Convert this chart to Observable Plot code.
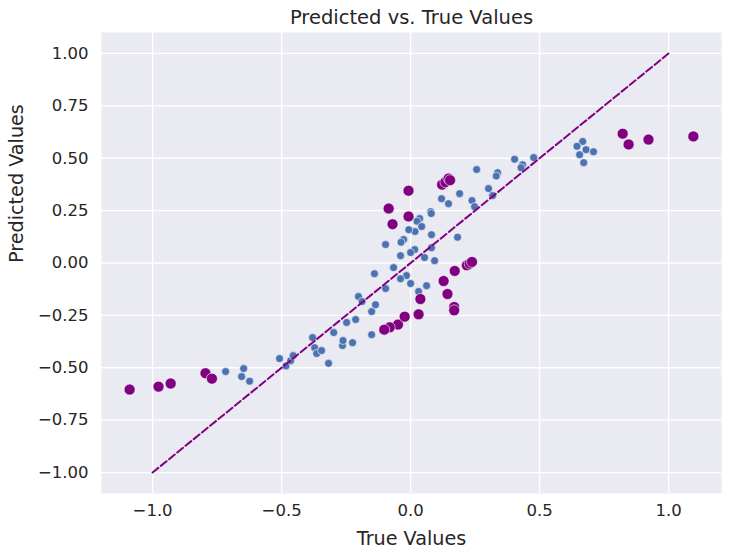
<!DOCTYPE html>
<html><head><meta charset="utf-8">
<script src="https://cdn.jsdelivr.net/npm/d3@7"></script>
<script src="https://cdn.jsdelivr.net/npm/@observablehq/plot@0.6"></script>
<style>body{margin:0;background:#fff}</style>
</head><body><div id="chart"></div>
<script>
const title = "Predicted vs. True Values";
const xLabel = "True Values";
const yLabel = "Predicted Values";
const xTicks = [-1.0, -0.5, 0.0, 0.5, 1.0];
const yTicks = [-1.0, -0.75, -0.5, -0.25, 0.0, 0.25, 0.5, 0.75, 1.0];

const blueTrue = [-0.717,-0.647,-0.655,-0.624,-0.508,-0.483,-0.465,-0.455,-0.380,-0.372,-0.364,-0.345,-0.318,-0.298,-0.264,-0.262,-0.248,-0.225,-0.213,-0.202,-0.188,-0.151,-0.151,-0.136,-0.140,-0.097,-0.097,-0.066,
  0.403,0.477,0.434,0.428,0.256,0.337,0.332,0.302,0.318,0.238,0.248,0.190,0.120,0.147,0.078,0.080,0.035,0.025,0.043,0.017,-0.007,0.081,-0.027,-0.037,0.182,0.016,0.000,0.081,-0.039,0.054,0.093,-0.016,-0.039,0.000,0.062,0.031,
  0.667,0.645,0.680,0.655,0.709,0.671];
const bluePred = [-0.518,-0.504,-0.542,-0.564,-0.456,-0.491,-0.466,-0.442,-0.356,-0.404,-0.432,-0.418,-0.479,-0.332,-0.394,-0.370,-0.284,-0.380,-0.270,-0.160,-0.184,-0.342,-0.232,-0.199,-0.051,-0.122,0.088,-0.022,
  0.495,0.503,0.469,0.455,0.446,0.431,0.415,0.355,0.322,0.298,0.269,0.331,0.307,0.283,0.245,0.236,0.212,0.199,0.174,0.150,0.159,0.135,0.112,0.099,0.123,0.064,0.050,0.073,0.035,0.026,0.011,-0.060,-0.075,-0.098,-0.108,-0.136,
  0.580,0.557,0.541,0.517,0.531,0.479];

const purpleTrue = [-1.089,-0.977,-0.930,-0.795,-0.770,-0.085,-0.070,-0.049,-0.081,-0.102,-0.008,-0.008,0.122,0.135,0.147,0.153,0.171,0.218,0.229,0.238,0.128,0.143,0.038,0.031,-0.023,0.169,0.169,0.822,0.845,0.922,1.096];
const purplePred = [-0.604,-0.590,-0.575,-0.526,-0.552,0.260,0.185,-0.294,-0.307,-0.318,0.345,0.222,0.374,0.386,0.403,0.395,-0.038,-0.011,-0.003,0.005,-0.086,-0.148,-0.172,-0.245,-0.256,-0.210,-0.226,0.617,0.566,0.589,0.604];

const lineX = [-1, 1];
const lineY = [-1, 1];

const blue = blueTrue.map((x, i) => ({x, y: bluePred[i]}));
const purple = purpleTrue.map((x, i) => ({x, y: purplePred[i]}));
const diag = lineX.map((x, i) => ({x, y: lineY[i]}));

const chart = Plot.plot({
  width: 729,
  height: 552,
  marginLeft: 101,
  marginRight: 8,
  marginTop: 32,
  marginBottom: 59,
  style: {background: "#ffffff", fontFamily: "DejaVu Sans", color: "#262626"},
  x: {domain: [-1.198, 1.205], label: null},
  y: {domain: [-1.1, 1.1], label: null},
  marks: [
    Plot.frame({fill: "#EAEAF2", stroke: null}),
    Plot.gridX(xTicks, {stroke: "#ffffff", strokeOpacity: 1, strokeWidth: 1.3}),
    Plot.gridY(yTicks, {stroke: "#ffffff", strokeOpacity: 1, strokeWidth: 1.3}),
    Plot.axisX({ticks: xTicks, tickSize: 0, tickPadding: 11, tickFormat: d3.format(".1f"), fontSize: 16.5, label: null}),
    Plot.axisY({ticks: yTicks, tickSize: 0, tickPadding: 13, tickFormat: d3.format(".2f"), fontSize: 16.5, label: null}),
    Plot.dot(blue, {x: "x", y: "y", r: 4, fill: "#4C72B0", stroke: "#ffffff", strokeWidth: 0.6}),
    Plot.dot(purple, {x: "x", y: "y", r: 5.5, fill: "purple", stroke: "#ffffff", strokeWidth: 0.6}),
    Plot.line(diag, {x: "x", y: "y", stroke: "purple", strokeWidth: 2, strokeDasharray: "7.4,3.2"}),
    Plot.text([title], {frameAnchor: "top", lineAnchor: "middle", dy: -15, fontSize: 19.5, fill: "#262626"}),
    Plot.text([xLabel], {frameAnchor: "bottom", lineAnchor: "middle", dy: 45, fontSize: 19.2, fill: "#262626"}),
    Plot.text([yLabel], {frameAnchor: "left", lineAnchor: "middle", rotate: -90, dx: -85, fontSize: 19.2, fill: "#262626"})
  ]
});
document.getElementById("chart").appendChild(chart);
</script>
</body></html>
